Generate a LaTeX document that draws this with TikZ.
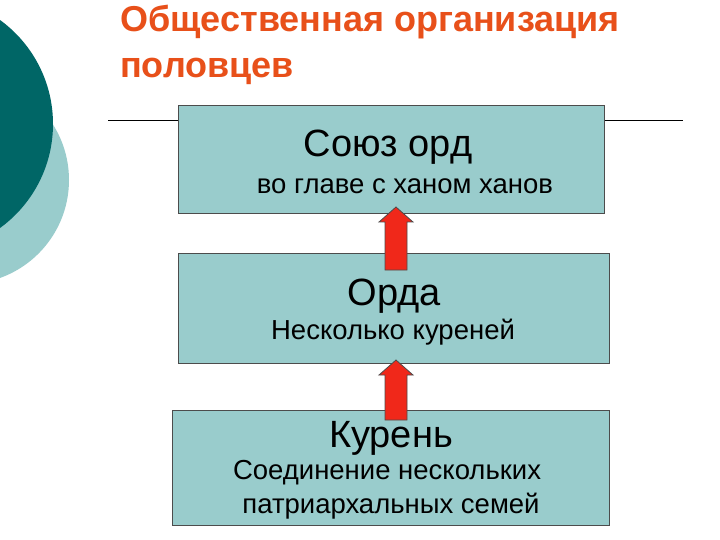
\documentclass[tikz,border=0pt]{standalone}
\usepackage{fontspec}
\setmainfont{Liberation Sans}
\usetikzlibrary{calc}
\definecolor{boxfill}{HTML}{99CCCC}
\definecolor{darkteal}{HTML}{006666}
\definecolor{lightteal}{HTML}{99CCCC}
\definecolor{titlered}{HTML}{E8501A}
\definecolor{arrowred}{HTML}{F0281A}
\tikzset{
  panel/.style={draw=black!70, line width=1pt, fill=boxfill, inner sep=0pt},
  big/.style={font=\fontsize{38}{42}\selectfont},
  small/.style={font=\fontsize{27.5}{32}\selectfont},
  uparrow/.style={fill=arrowred, draw=black!70, line width=0.8pt}
}
\newcommand{\fatarrow}[2]{%
  \path (#1) coordinate (ab) (#2) coordinate (at);
  \draw[uparrow] ($(ab)+(-11,0)$) -- ($(at)+(-11,15)$) -- ($(at)+(-17,15)$) -- (at) -- ($(at)+(17,15)$) -- ($(at)+(11,15)$) -- ($(ab)+(11,0)$) -- cycle;
}
\begin{document}
\begin{tikzpicture}[x=1pt,y=-1pt]
\useasboundingbox (0,0) rectangle (720,540);
\fill[white] (0,0) rectangle (720,540);
\begin{scope}
\clip (0,0) rectangle (720,540);
\fill[lightteal] (-35,180) circle (104);
\fill[darkteal] (-75.5,124) circle (128.5);
\end{scope}
\node[anchor=base west, inner sep=0pt, text=titlered, font=\bfseries\fontsize{36}{40}\selectfont] (t1) at (120,32) {Общественная организация};
\node[anchor=base west, inner sep=0pt, text=titlered, font=\bfseries\fontsize{36}{40}\selectfont] (t2) at (120,78) {половцев};
\coordinate (l1) at (108,120);
\coordinate (l2) at (683,120);
\draw[line width=0.8pt] (l1) -- (l2);
\node[panel, minimum width=426pt, minimum height=108pt, anchor=north west] (b1) at (178,105) {};
\node[big, anchor=base] (b1a) at (388,157) {Союз орд};
\node[small, anchor=base] (b1b) at (405,194) {во главе с ханом ханов};
\node[panel, minimum width=431pt, minimum height=110pt, anchor=north west] (b2) at (178,253) {};
\node[big, anchor=base] (b2a) at (394,305) {Орда};
\node[small, anchor=base] (b2b) at (393,339) {Несколько куреней};
\node[panel, minimum width=437pt, minimum height=115pt, anchor=north west] (b3) at (172,410) {};
\node[big, anchor=base] (b3a) at (391,447) {Курень};
\node[small, anchor=base] (b3b) at (387,479) {Соединение нескольких};
\node[small, anchor=base] (b3c) at (391,513) {патриархальных семей};
\coordinate (a1b) at (396,270);
\coordinate (a1t) at (396,207);
\coordinate (a2b) at (396,420);
\coordinate (a2t) at (396,360);
\fatarrow{a1b}{a1t}
\fatarrow{a2b}{a2t}
\end{tikzpicture}
\end{document}
